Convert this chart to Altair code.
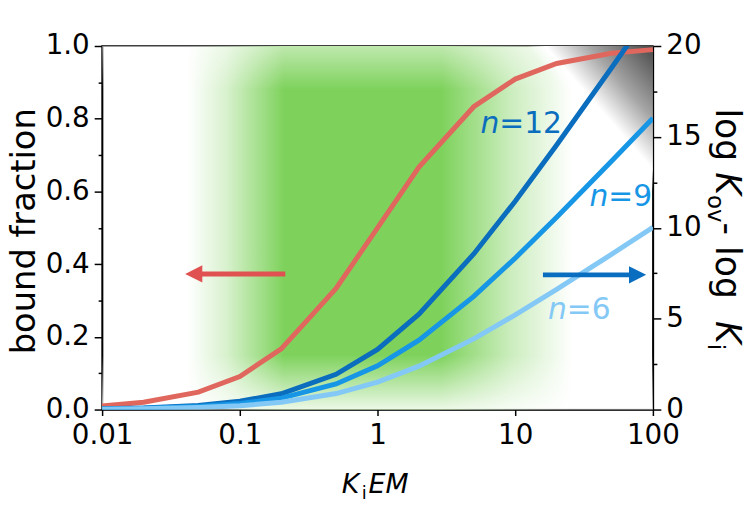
import altair as alt
import pandas as pd

# ---------------- data ----------------
KIEM = [0.01, 0.02, 0.05, 0.1, 0.2, 0.5, 1, 2, 5, 10, 20, 50, 100]
BOUND = [0.01, 0.02, 0.048, 0.091, 0.167, 0.333, 0.5, 0.667, 0.833, 0.909, 0.952, 0.980, 0.990]
N12 = [0.05, 0.09, 0.23, 0.46, 0.87, 1.94, 3.31, 5.25, 8.56, 11.46, 14.55, 18.79, 22.05]
N9 = [0.03, 0.07, 0.17, 0.33, 0.63, 1.41, 2.41, 3.82, 6.23, 8.33, 10.58, 13.66, 16.03]
N6 = [0.02, 0.04, 0.11, 0.21, 0.40, 0.88, 1.51, 2.39, 3.89, 5.21, 6.61, 8.54, 10.02]

SERIES = ["n=12", "n=9", "n=6"]
LINE_COLORS = ["#0B6DBD", "#1796E6", "#84C9F6"]
LABEL_COLORS = ["#1A73BF", "#3199DF", "#86BCE8"]
LABEL_X = [7.67, 47.4, 23.7]
LABEL_Y = [15.2, 11.2, 4.96]
LABEL_REST = ["=12", "=9", "=6"]

X_TICKS = [0.01, 0.1, 1, 10, 100]
LEFT_TICKS = [0, 0.1, 0.2, 0.3, 0.4, 0.5, 0.6, 0.7, 0.8, 0.9, 1.0]
RIGHT_TICKS = [0, 2.5, 5, 7.5, 10, 12.5, 15, 17.5, 20]

RED_ARROW = {"x": [0.214], "x2": [0.05], "hx": [0.0463], "y": [0.373]}
BLUE_ARROW = {"x": [15.9], "x2": [72.0], "hx": [77.4], "y": [7.41]}

GREEN_BOX = {"x": [0.042], "x2": [26.0], "y": [0.0], "y2": [1.0]}
BOTTOM_FADE = {"x": [0.01], "x2": [100.0], "y": [0.0], "y2": [0.15]}
TOP_FADE = {"x": [0.01], "x2": [100.0], "y": [0.88], "y2": [1.0]}
GRAY_BOX = {"x": [12.0], "x2": [100.0], "y": [0.6], "y2": [1.0]}

FONT = "DejaVu Sans"
xscale = alt.Scale(type="log", domain=[0.01, 100], nice=False)
lscale = alt.Scale(domain=[0, 1], nice=False, zero=False)
rscale = alt.Scale(domain=[0, 20], nice=False, zero=False)

X_AXIS = alt.Axis(values=X_TICKS, labelExpr="format(datum.value, '~g')",
                  title=None, tickSize=6, labelPadding=6, grid=False,
                  labelFlush=False, labelOverlap=False)
LEFT_AXIS = alt.Axis(values=LEFT_TICKS,
                     labelExpr="round(datum.value*10) % 2 == 0 ? format(datum.value, '.1f') : ''",
                     tickSize={"condition": {"test": "round(datum.value*10) % 2 == 0", "value": 8}, "value": 4},
                     labelPadding=5, title=None, grid=False, labelOverlap=False)
RIGHT_AXIS = alt.Axis(orient="right", values=RIGHT_TICKS,
                      labelExpr="datum.value % 5 == 0 ? format(datum.value, 'd') : ''",
                      tickSize={"condition": {"test": "datum.value % 5 == 0", "value": 8}, "value": 4},
                      labelPadding=5, title=None, grid=False, labelOverlap=False)

GREEN = "126,210,92"


def X(field):
    return alt.X(field, type="quantitative", scale=xscale, axis=X_AXIS)


def YL(field):
    return alt.Y(field, type="quantitative", scale=lscale, axis=LEFT_AXIS)


def YR(field):
    return alt.Y(field, type="quantitative", scale=rscale, axis=RIGHT_AXIS)


def box_layer(d, gradient):
    return alt.Chart(pd.DataFrame(d)).mark_rect(color=gradient, strokeWidth=0).encode(
        x=X("x"), x2="x2", y=YL("y"), y2="y2")


green = box_layer(GREEN_BOX, alt.LinearGradient(
    gradient="linear", x1=0, y1=0, x2=1, y2=0,
    stops=[
        alt.GradientStop(offset=0, color=f"rgba({GREEN},0)"),
        alt.GradientStop(offset=0.10, color=f"rgba({GREEN},0.3)"),
        alt.GradientStop(offset=0.25, color=f"rgba({GREEN},1)"),
        alt.GradientStop(offset=0.66, color=f"rgba({GREEN},1)"),
        alt.GradientStop(offset=0.84, color=f"rgba({GREEN},0.4)"),
        alt.GradientStop(offset=1, color=f"rgba({GREEN},0)"),
    ]))
bottom_fade = box_layer(BOTTOM_FADE, alt.LinearGradient(
    gradient="linear", x1=0, y1=1, x2=0, y2=0,
    stops=[alt.GradientStop(offset=0, color="rgba(255,255,255,0.85)"),
           alt.GradientStop(offset=1, color="rgba(255,255,255,0)")]))
top_fade = box_layer(TOP_FADE, alt.LinearGradient(
    gradient="linear", x1=0, y1=0, x2=0, y2=1,
    stops=[alt.GradientStop(offset=0, color="rgba(255,255,255,0.5)"),
           alt.GradientStop(offset=1, color="rgba(255,255,255,0)")]))
gray = box_layer(GRAY_BOX, alt.LinearGradient(
    gradient="linear", x1=1, y1=0, x2=0.5, y2=0.5,
    stops=[alt.GradientStop(offset=0, color="rgba(72,72,72,1)"),
           alt.GradientStop(offset=0.5, color="rgba(165,165,165,1)"),
           alt.GradientStop(offset=0.85, color="rgba(255,255,255,1)"),
           alt.GradientStop(offset=1, color="rgba(255,255,255,0)")]))

red_df = pd.DataFrame({"x": KIEM, "b": BOUND})
red_line = alt.Chart(red_df).mark_line(color="#E0675E", strokeWidth=5).encode(
    x=X("x"), y=YL("b"))

ra = pd.DataFrame(RED_ARROW)
red_shaft = alt.Chart(ra).mark_rule(color="#E05252", strokeWidth=5).encode(
    x=X("x"), x2="x2", y=YL("y"))
red_head = alt.Chart(ra).mark_point(shape="M1,-1L-1,0L1,1Z", filled=True, size=300,
                                    color="#E05252", opacity=1).encode(
    x=X("hx"), y=YL("y"))


def txt(text, x, y, size, angle=0, style="normal", align="left", color="black"):
    return alt.Chart(alt.Data(values=[{}])).mark_text(
        text=text, font=FONT, fontSize=size, fontStyle=style, angle=angle,
        align=align, baseline="alphabetic", color=color,
    ).encode(x=alt.value(x), y=alt.value(y))


left_title = txt("bound fraction", -68, 187, 34, angle=270, align="center")
x_title = alt.layer(
    txt("K", 242, 451, 27, style="italic"),
    txt("i", 262, 457, 18),
    txt("EM", 269, 451, 27, style="italic"),
)
# right title pieces, rotated 90 degrees, reading downward
ry0 = 63
rx = 620
right_title = alt.layer(
    txt("log ", rx, ry0, 35, angle=90),
    txt("K", rx, ry0 + 64.5, 35, angle=90, style="italic"),
    txt("ov", rx - 8, ry0 + 87.5, 23, angle=90),
    txt(" - log ", rx, ry0 + 115.2, 35, angle=90),
    txt("K", rx, ry0 + 214.6, 35, angle=90, style="italic"),
    txt("i", rx - 8, ry0 + 237.6, 23, angle=90),
)

left_group = alt.layer(green, bottom_fade, top_fade, gray, red_line, red_shaft, red_head,
                       left_title, x_title, right_title)

rows = []
for s, vals in zip(SERIES, [N12, N9, N6]):
    for x, v in zip(KIEM, vals):
        rows.append({"x": x, "v": v, "s": s})
blue_df = pd.DataFrame(rows)
cscale = alt.Scale(domain=SERIES, range=LINE_COLORS)
blue_lines = alt.Chart(blue_df).mark_line(strokeWidth=5, clip=True).encode(
    x=X("x"), y=YR("v"),
    color=alt.Color("s:N", scale=cscale, legend=None),
    detail="s:N",
)

lab_df = pd.DataFrame({"x": LABEL_X, "y": LABEL_Y, "rest": LABEL_REST, "s": SERIES})
lab_scale = alt.Scale(domain=SERIES, range=LABEL_COLORS)
lab_n = alt.Chart(lab_df).mark_text(text="n", font=FONT, fontSize=30, fontStyle="italic",
                                    align="right", baseline="alphabetic").encode(
    x=X("x"), y=YR("y"),
    color=alt.Color("s:N", scale=lab_scale, legend=None))
lab_rest = alt.Chart(lab_df).mark_text(font=FONT, fontSize=30,
                                       align="left", baseline="alphabetic").encode(
    x=X("x"), y=YR("y"), text="rest:N",
    color=alt.Color("s:N", scale=lab_scale, legend=None))

ba = pd.DataFrame(BLUE_ARROW)
blue_shaft = alt.Chart(ba).mark_rule(color="#0A6EC0", strokeWidth=5).encode(
    x=X("x"), x2="x2", y=YR("y"))
blue_head = alt.Chart(ba).mark_point(shape="M-1,-1L1,0L-1,1Z", filled=True, size=300,
                                     color="#0A6EC0", opacity=1).encode(
    x=X("hx"), y=YR("y"))

right_group = alt.layer(blue_lines, lab_n, lab_rest, blue_shaft, blue_head)

chart = alt.layer(left_group, right_group).resolve_scale(
    y="independent", color="independent"
).properties(
    width=556, height=367,
    padding={"left": 95, "top": 36, "right": 96, "bottom": 96},
    autosize=alt.AutoSizeParams(type="none"),
).configure_axis(
    labelFont=FONT, labelFontSize=28, labelColor="black",
    domainColor="black", domainWidth=1.5, tickColor="black", tickWidth=1.5, grid=False,
).configure_view(stroke="black", strokeWidth=1.5)

chart.save("out.html", embed_options={"renderer": "svg", "actions": False})
